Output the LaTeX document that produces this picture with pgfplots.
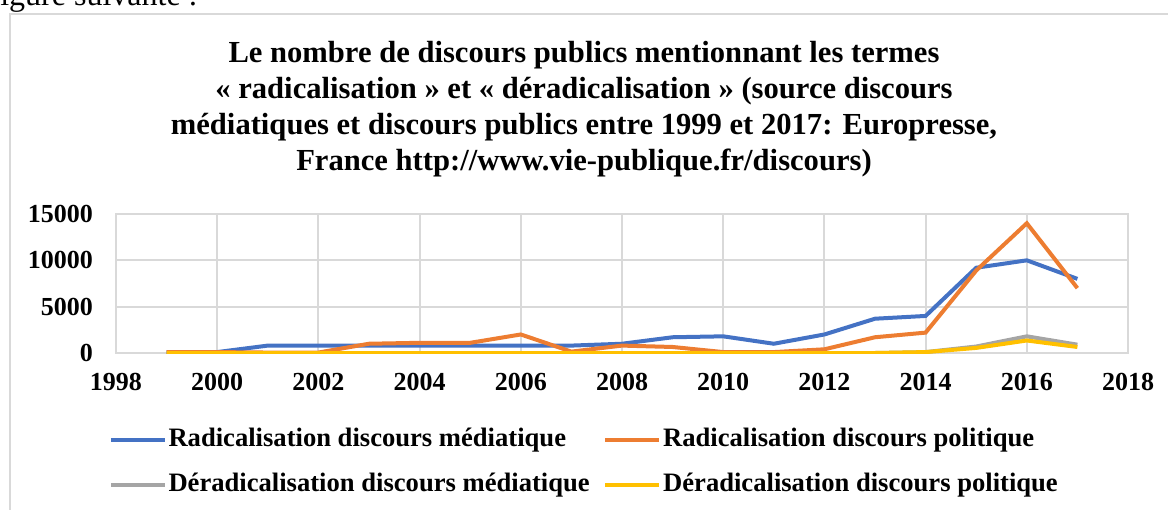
\documentclass[border=0pt]{standalone}
\usepackage{fontspec}
\setmainfont{Liberation Serif}
\usepackage{pgfplots}
\pgfplotsset{compat=1.18}
\definecolor{cblue}{HTML}{4472C4}
\definecolor{corange}{HTML}{ED7D31}
\definecolor{cgray}{HTML}{A5A5A5}
\definecolor{cyellow}{HTML}{FFC000}
\definecolor{gridgray}{HTML}{D9D9D9}
\begin{document}
\begin{tikzpicture}
\useasboundingbox (0,0) rectangle (584pt,-254.5pt);
\draw[color=gridgray, line width=1pt] (5pt,-7pt) rectangle (620pt,-300pt);
\node[anchor=base east, font=\fontsize{16}{19}\selectfont, inner sep=0pt] at (99pt,-2.5pt) {figure suivante :};
\node[anchor=north, align=center, font=\bfseries\fontsize{15.3}{18}\selectfont, inner sep=0pt] at (292pt,-20.5pt)
{Le nombre de discours publics mentionnant les termes\\
«~radicalisation~» et «~déradicalisation~» (source discours\\
médiatiques et discours publics entre 1999 et 2017: Europresse,\\
France http://www.vie-publique.fr/discours)};
\begin{axis}[
  at={(58pt,-176.5pt)}, anchor=south west,
  scale only axis, width=506pt, height=69.5pt,
  xmin=1998, xmax=2018, ymin=0, ymax=15000,
  xtick={1998,2000,...,2018}, ytick={0,5000,10000,15000},
  scaled y ticks=false, scaled x ticks=false,
  grid=major, major grid style={gridgray, line width=1pt},
  axis line style={gridgray, line width=1pt},
  major tick length=0pt,
  ticklabel style={font=\bfseries\fontsize{13}{15}\selectfont},
  yticklabel style={xshift=-8pt},
  xticklabel style={yshift=-6.5pt},
  /pgf/number format/.cd, 1000 sep={}, assume math mode=true,
  /pgfplots/.cd,
  legend columns=2,
  legend cell align=left,
  legend image code/.code={\draw[#1, line width=1.75pt] (0pt,0pt) -- (27pt,0pt);},
  legend style={draw=none, fill=none, inner sep=0pt,
    at={(axis description cs:-0.0073,-0.532)}, anchor=north west,
    font=\bfseries\fontsize{13.3}{16}\selectfont,
    nodes={inner xsep=1pt, inner ysep=0pt, text height=9.5pt, text depth=3pt},
    row sep=10pt,
    /tikz/every even column/.append style={column sep=6pt}},
]
\addplot[cblue, line width=2pt] coordinates {
(1999,100) (2000,100) (2001,800) (2002,800) (2003,800) (2004,800) (2005,800) (2006,800) (2007,800) (2008,1000) (2009,1700) (2010,1800) (2011,1000) (2012,2000) (2013,3700) (2014,4000) (2015,9200) (2016,10000) (2017,8000)};
\addlegendentry{Radicalisation discours médiatique}
\addplot[corange, line width=2pt] coordinates {
(1999,100) (2000,100) (2001,50) (2002,50) (2003,1000) (2004,1100) (2005,1100) (2006,2000) (2007,150) (2008,800) (2009,650) (2010,100) (2011,100) (2012,400) (2013,1700) (2014,2200) (2015,8900) (2016,14000) (2017,7000)};
\addlegendentry{Radicalisation discours politique}
\addplot[cgray, line width=2pt] coordinates {
(1999,0) (2000,0) (2001,0) (2002,0) (2003,0) (2004,0) (2005,0) (2006,0) (2007,0) (2008,0) (2009,0) (2010,0) (2011,0) (2012,0) (2013,0) (2014,100) (2015,700) (2016,1800) (2017,900)};
\addlegendentry{Déradicalisation discours médiatique}
\addplot[cyellow, line width=2pt] coordinates {
(1999,0) (2000,0) (2001,0) (2002,0) (2003,0) (2004,0) (2005,0) (2006,0) (2007,0) (2008,0) (2009,0) (2010,0) (2011,0) (2012,0) (2013,0) (2014,100) (2015,550) (2016,1350) (2017,650)};
\addlegendentry{Déradicalisation discours politique}
\end{axis}
\end{tikzpicture}
\end{document}
